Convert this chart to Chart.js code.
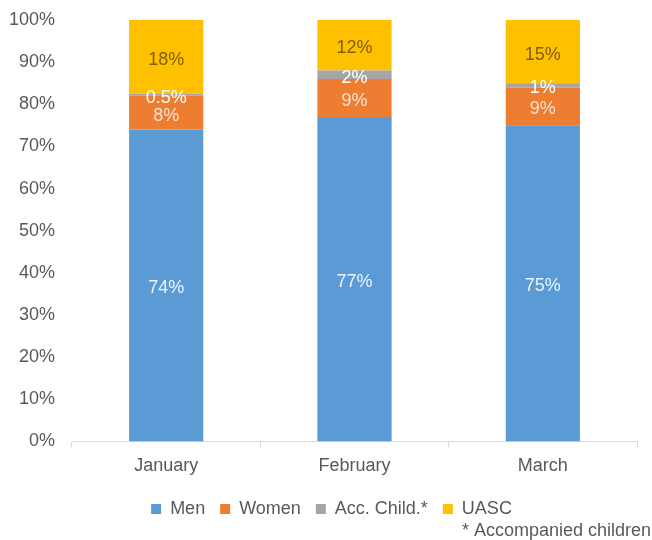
<!DOCTYPE html>
<html>
<head>
<meta charset="utf-8">
<script src="https://cdn.jsdelivr.net/npm/chart.js@4.4.1/dist/chart.umd.min.js"></script>
<style>
  body { margin: 0; background: #fff; }
</style>
</head>
<body>
<canvas id="myChart" width="652" height="540"></canvas>
<script>
// Data

var months = ['January', 'February', 'March']
var men = [74, 77, 75]
var women = [8, 9, 9]
var accChild = [0.5, 2, 1]
var uasc = [18, 12, 15]
var yTicks = [0, 10, 20, 30, 40, 50, 60, 70, 80, 90, 100]

var seriesNames = ['Men', 'Women', 'Acc. Child.*', 'UASC']
var seriesColors = ['#5B9BD5', '#ED7D31', '#A5A5A5', '#FFC000']
var labelColors = ['rgba(255,255,255,0.88)', '#FBE3D3', '#FFFFFF', '#7F6000']
var footnote = '* Accompanied children'

var fontFamily = '"Liberation Sans", Arial, sans-serif'
var textColor = '#595959'

// Plugins

var segmentLabels = {
    id: 'segmentLabels',
    afterDatasetsDraw(chart) {
        var ctx = chart.ctx
        var area = chart.chartArea
        ctx.save()
        ctx.font = '18px ' + fontFamily
        ctx.textAlign = 'center'
        ctx.textBaseline = 'middle'
        chart.data.datasets.forEach((ds, i) => {
            chart.getDatasetMeta(i).data.forEach((bar, j) => {
                var top = Math.max(bar.y, area.top)
                var y = (top + bar.base) / 2 + 3
                ctx.fillStyle = labelColors[i]
                ctx.fillText(ds.data[j] + '%', bar.x, y)
            })
        })
        ctx.restore()
    }
}

// legend sits a little right of the canvas centre in the original
var legendShift = {
    id: 'legendShift',
    afterLayout(chart) {
        chart.legend.left += 13
        chart.legend.right += 13
    }
}

var footnotePlugin = {
    id: 'footnote',
    afterDraw(chart) {
        var ctx = chart.ctx
        ctx.save()
        ctx.font = '18px ' + fontFamily
        ctx.fillStyle = textColor
        ctx.textAlign = 'right'
        ctx.textBaseline = 'middle'
        ctx.fillText(footnote, 651, 531)
        ctx.restore()
    }
}

// Drawing

var ctx = document.getElementById('myChart').getContext('2d')

var data = {
    labels: months,
    datasets: [men, women, accChild, uasc].map((values, i) => ({
        label: seriesNames[i],
        data: values,
        backgroundColor: seriesColors[i],
        borderWidth: 0,
        categoryPercentage: 1,
        barPercentage: 0.394,
    }))
}

var options = {
    responsive: false,
    animation: false,
    devicePixelRatio: 1,
    layout: {
        padding: { top: 20, right: 15, bottom: 12, left: 0 }
    },
    scales: {
        x: {
            stacked: true,
            grid: {
                display: true,
                drawOnChartArea: false,
                drawTicks: true,
                tickLength: 6,
                color: '#D9D9D9',
                offset: true,
            },
            border: { display: true, color: '#D9D9D9', width: 1 },
            ticks: {
                color: textColor,
                padding: 8,
                font: { family: fontFamily, size: 18 },
            },
        },
        y: {
            stacked: true,
            min: 0,
            max: 100,
            afterBuildTicks: axis => { axis.ticks = yTicks.map(v => ({ value: v })) },
            afterFit: axis => {
                axis.width = 72
                axis.paddingTop = 0
                axis.paddingBottom = 0
            },
            grid: { display: false, drawTicks: false },
            border: { display: false },
            ticks: {
                color: textColor,
                padding: 17,
                font: { family: fontFamily, size: 18 },
                callback: value => value + '%',
            },
        },
    },
    plugins: {
        tooltip: { enabled: false },
        legend: {
            position: 'bottom',
            labels: {
                color: textColor,
                boxWidth: 10,
                boxHeight: 10,
                padding: 15,
                font: { family: fontFamily, size: 18 },
            },
        },
    },
}

var myChart = new Chart(ctx, {
    type: 'bar',
    data: data,
    options: options,
    plugins: [segmentLabels, legendShift, footnotePlugin],
})
</script>
</body>
</html>
